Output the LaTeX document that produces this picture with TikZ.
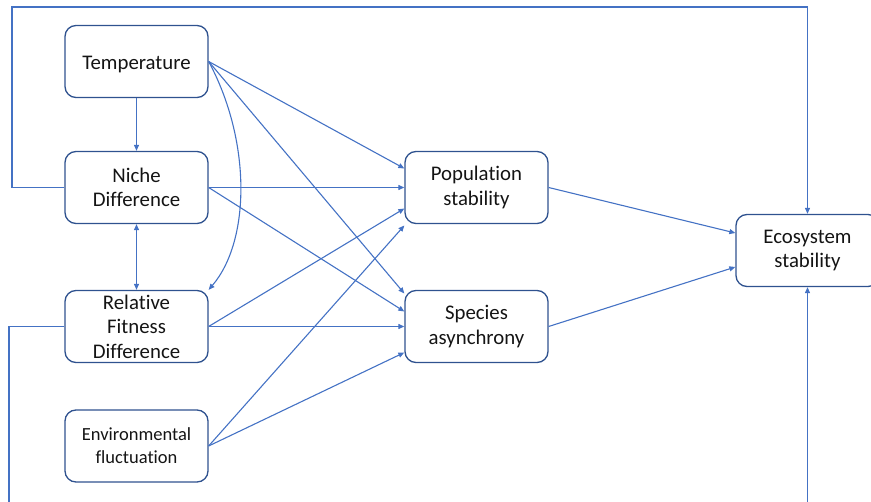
\documentclass[tikz,border=0pt]{standalone}
\usepackage{fontspec}
\setmainfont{Carlito}[Ligatures=NoCommon]
\usetikzlibrary{arrows.meta}
\definecolor{linkblue}{RGB}{68,114,196}
\definecolor{boxblue}{RGB}{47,82,143}
\definecolor{txt}{RGB}{20,20,20}
\begin{document}
\begin{tikzpicture}[x=1pt,y=-1pt,
  box/.style={draw=boxblue,line width=1.3pt,rounded corners=11pt,minimum width=143pt,minimum height=72pt,align=center,text=txt,font=\fontsize{20.8}{24.5}\selectfont,inner sep=0pt},
  link/.style={draw=linkblue,line width=1.1pt,-{Triangle[length=6pt,width=5pt]}},
  plain/.style={draw=linkblue,line width=1.1pt}]
\useasboundingbox (0,0) rectangle (871,502);
\node[box,text height=20.4pt,text depth=4.2pt] (temp) at (136.5,61.5) {Temperature};
\node[box] (niche) at (136.5,187.5) {Niche\\Difference};
\node[box] (rfd) at (136.5,326.5) {Relative\\Fitness\\Difference};
\node[box,font=\fontsize{18.5}{23}\selectfont] (env) at (136.5,446) {Environmental\\fluctuation};
\node[box] (pop) at (476.5,187.5) {Population\\stability};
\node[box] (spe) at (476.5,326.5) {Species\\asynchrony};
\node[box] (eco) at (807.5,250.5) {Ecosystem\\stability};
\coordinate (tl) at (12,7);
\coordinate (bl) at (9,515);
\coordinate (br) at (807.5,515);
% loops
\draw[link] (niche.west) -- (tl |- niche.west) |- (tl -| eco.north) -- (eco.north);
\draw[plain] (rfd.west) -- (bl |- rfd.west) -- (bl);
\draw[link] (br) -- (eco.south);
% vertical
\draw[link] (temp.south) -- (niche.north);
\draw[link,{Triangle[length=6pt,width=5pt]}-{Triangle[length=6pt,width=5pt]}] (niche.south) -- (rfd.north);
% curve
\draw[link] (temp.east) .. controls (251,140) and (251,240) .. (rfd.north east);
% temperature
\draw[link] (temp.east) -- ([yshift=19pt]pop.west);
\draw[link] (temp.east) -- ([yshift=33pt]spe.west);
% niche
\draw[link] (niche.east) -- (pop.west);
\draw[link] (niche.east) -- ([yshift=15pt]spe.west);
% rfd
\draw[link] (rfd.east) -- ([yshift=-21pt]pop.west);
\draw[link] (rfd.east) -- (spe.west);
% env
\draw[link] (env.east) -- ([yshift=-38pt]pop.west);
\draw[link] (env.east) -- ([yshift=-26pt]spe.west);
% to eco
\draw[link] (pop.east) -- ([yshift=17.5pt]eco.west);
\draw[link] (spe.east) -- ([yshift=-16.5pt]eco.west);
\end{tikzpicture}
\end{document}
